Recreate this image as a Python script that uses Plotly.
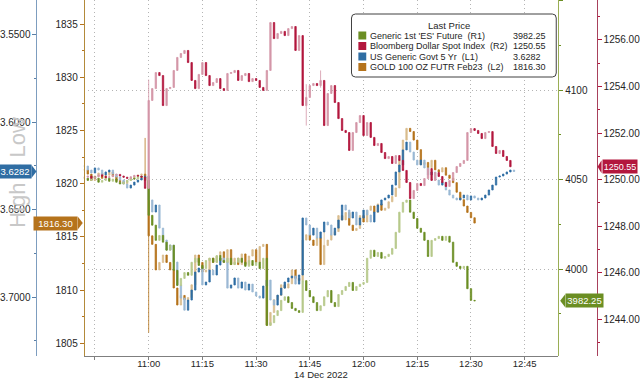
import plotly.graph_objects as go
import pandas as pd

W, H = 640, 379
DAY = "2022-12-14"
START = DAY + " 10:42"

# ---------------- data (1-minute closes) ----------------
# Bloomberg Dollar Spot Index (R2), 10:42 -> 12:41
dxy_close = [
    1250.10, 1250.15, 1250.05, 1250.12, 1250.20, 1250.14, 1250.08, 1250.12, 1250.18,
    1250.22, 1250.15, 1250.10, 1250.05, 1250.12, 1250.18, 1250.15, 1250.10, 1249.62,
    1253.40, 1253.91, 1254.60, 1254.47, 1253.18, 1253.91, 1253.96, 1254.69, 1255.25, 1255.42,
    1255.55, 1255.03, 1254.26, 1253.91, 1254.52, 1255.03, 1254.47, 1254.04, 1254.17, 1254.34,
    1253.91, 1253.83, 1254.56, 1254.60, 1254.69, 1254.26, 1254.47, 1254.56, 1254.21, 1254.34,
    1254.26, 1253.96, 1253.83, 1254.69, 1256.75, 1256.06, 1256.28, 1256.37, 1256.19, 1256.49,
    1256.58, 1255.55, 1256.19, 1253.18, 1253.53, 1254.04, 1254.13, 1254.04, 1254.26, 1252.32,
    1253.70, 1254.04, 1253.31, 1252.62, 1252.11, 1252.02, 1251.25, 1252.02, 1252.45, 1252.75,
    1251.89, 1252.45, 1251.81, 1251.46, 1251.55, 1251.16, 1250.90, 1250.99, 1250.69, 1251.03,
    1250.82, 1250.39, 1249.87, 1249.18, 1249.53, 1249.83, 1249.74, 1250.04, 1250.47, 1249.96,
    1250.30, 1250.13, 1249.87, 1249.70, 1249.96, 1250.30, 1250.56, 1250.69, 1250.82, 1252.02,
    1252.19, 1252.11, 1251.98, 1251.76, 1252.02, 1252.06, 1251.42, 1251.12, 1251.25, 1250.99,
    1250.82, 1250.55,
]
dxy_wicks = {"11:00": (1254.30, 1249.60), "11:44": (1254.10, 1252.32), "11:48": (1254.69, 1253.95)}

# US Generic Govt 5 Yr (L1), 10:42 -> 12:42
ust5_close = [
    3.6251, 3.6274, 3.6291, 3.6262, 3.6274, 3.6302, 3.6285, 3.6274, 3.6297,
    3.6314, 3.6331, 3.6354, 3.6377, 3.6360, 3.6343, 3.6331, 3.6320, 3.6308,
    3.6445, 3.6514, 3.6474, 3.6606, 3.6674, 3.6731, 3.6703, 3.6800, 3.6931, 3.7006,
    3.7075, 3.7017, 3.6960, 3.6857, 3.6834, 3.6931, 3.6914, 3.6846, 3.6874, 3.6817,
    3.6777, 3.6800, 3.6949, 3.6931, 3.6891, 3.6949, 3.6914, 3.6960, 3.6926, 3.6971,
    3.6994, 3.7006, 3.6937, 3.6903, 3.7017, 3.7046, 3.6989, 3.6949, 3.6914, 3.6891,
    3.6880, 3.6926, 3.6874, 3.6548, 3.6588, 3.6646, 3.6606, 3.6663, 3.6628, 3.6571,
    3.6588, 3.6646, 3.6606, 3.6560, 3.6474, 3.6503, 3.6548, 3.6514, 3.6588, 3.6548,
    3.6503, 3.6531, 3.6571, 3.6514, 3.6474, 3.6445, 3.6434, 3.6417, 3.6360, 3.6285,
    3.6245, 3.6159, 3.6114, 3.6171, 3.6217, 3.6245, 3.6217, 3.6262, 3.6302, 3.6285,
    3.6331, 3.6360, 3.6343, 3.6388, 3.6417, 3.6434, 3.6445, 3.6434, 3.6417, 3.6445,
    3.6422, 3.6434, 3.6445, 3.6434, 3.6417, 3.6388, 3.6360, 3.6314, 3.6308, 3.6297,
    3.6285, 3.6274, 3.6282,
]
ust5_wicks = {}

# GOLD 100 OZ FUTR Feb23 (L2), 10:42 -> 12:31
gold_close = [
    1821.3, 1820.9, 1820.3, 1820.7, 1821.0, 1820.5, 1820.8, 1821.1, 1820.7,
    1820.3, 1820.2, 1820.0, 1820.3, 1820.5, 1820.7, 1820.8, 1820.9, 1820.7,
    1815.1, 1814.3, 1811.9, 1812.6, 1813.3, 1812.6, 1811.9, 1810.2, 1808.6, 1809.5,
    1809.1, 1809.3, 1810.5, 1813.3, 1812.6, 1811.7, 1811.9, 1813.0, 1812.6, 1813.2,
    1813.6, 1812.6, 1813.8, 1812.4, 1813.0, 1812.4, 1813.4, 1812.4, 1813.2, 1813.8,
    1812.6, 1814.1, 1814.3, 1806.7, 1807.9, 1809.1, 1809.5, 1810.5, 1810.2, 1810.6,
    1811.9, 1811.1, 1810.9, 1814.7, 1815.2, 1814.7, 1814.2, 1814.9, 1812.4, 1814.2,
    1814.7, 1815.2, 1815.5, 1817.0, 1816.6, 1817.3, 1816.1, 1815.6, 1815.8, 1817.0,
    1816.4, 1817.5, 1817.9, 1817.3, 1818.1, 1817.5, 1817.7, 1818.3, 1818.8, 1819.6,
    1822.2, 1824.1, 1825.2, 1824.9, 1824.1, 1823.2, 1821.8, 1822.0, 1821.5, 1822.2,
    1821.3, 1821.1, 1821.5, 1820.8, 1820.5, 1820.1, 1819.2, 1818.5, 1817.9, 1817.3,
    1816.8, 1816.3,
]
gold_wicks = {"10:59": (1824.3, 1820.5), "11:00": (1820.7, 1806.0), "11:49": (1815.6, 1812.4)}

# Generic 1st 'ES' Future (R1), 10:42 -> 12:31
es_close = [
    4050.75, 4049.5, 4051.75, 4050.75, 4048.5, 4049.5, 4050.75, 4049.0, 4050.25,
    4048.5, 4047.5, 4048.5, 4049.5, 4050.75, 4050.25, 4051.75, 4051.25, 4049.5,
    4030.0, 4024.5, 4016.0, 4018.75, 4015.0, 4010.5, 4013.25, 3999.25, 3990.75, 3994.75,
    3998.0, 3996.5, 4003.75, 4006.0, 4002.0, 4000.25, 4004.75, 4006.0, 4003.75, 4007.5,
    4004.75, 4003.75, 4006.0, 4002.5, 4003.75, 4006.0, 4003.75, 4001.5, 4004.75, 4002.0,
    4003.75, 4000.25, 4006.0, 3968.5, 3970.0, 3974.0, 3976.75, 3982.5, 3984.5, 3981.25,
    3978.0, 3976.75, 3975.75, 3993.5, 3988.0, 3984.5, 3981.25, 3976.75, 3979.5, 3984.5,
    3988.0, 3981.25, 3979.0, 3985.75, 3988.0, 3990.25, 3992.5, 3988.0, 3990.25, 3991.5,
    3992.5, 4006.0, 4010.5, 4007.0, 4009.25, 4006.0, 4007.0, 4008.25, 4011.5, 4020.5,
    4031.75, 4037.25, 4038.5, 4031.75, 4028.25, 4022.75, 4020.5, 4016.0, 4007.0, 4016.0,
    4017.0, 4018.25, 4016.0, 4018.25, 4015.0, 4003.75, 4001.5, 4000.25, 4001.5, 3989.0,
    3982.5, 3982.25,
]
es_wicks = {}

x_tick_times = ["10:45", "11:00", "11:15", "11:30", "11:45", "12:00", "12:15", "12:30", "12:45"]
x_tick_labels = ["", "11:00", "11:15", "11:30", "11:45", "12:00", "12:15", "12:30", "12:45"]
date_label = "14 Dec 2022"

legend_names = ["Generic 1st 'ES' Future\u00a0\u00a0(R1)", "Bloomberg Dollar Spot Index\u00a0\u00a0(R2)",
                "US Generic Govt 5 Yr\u00a0\u00a0(L1)", "GOLD 100 OZ FUTR Feb23\u00a0\u00a0(L2)"]
legend_values = ["3982.25", "1250.55", "3.6282", "1816.30"]
last_values = {"es": 3982.25, "dxy": 1250.55, "ust5": 3.6282, "gold": 1816.30}

# ---------------- styling ----------------
GREEN_D, GREEN_L = "#6b8e23", "#b7c98c"
RED_D, RED_L = "#b3173d", "#d497a8"
BLUE_D, BLUE_L = "#2f6da3", "#9bb9d4"
GOLD_D, GOLD_L = "#b5731c", "#d9bd8e"
GRID = "#b4b4b4"

X0, X1 = 81 / W, 563 / W
XB = 33 / W          # blue axis position
XR = 602 / W         # red axis position
YD0 = 1 - 356 / H    # bottom of plot domain


def px(x):
    return x / W


def py(y):
    return 1 - y / H


def ohlc(closes, wicks):
    times = pd.date_range(START, periods=len(closes), freq="min")
    opens = [closes[0]] + closes[:-1]
    highs = [max(o, c) for o, c in zip(opens, closes)]
    lows = [min(o, c) for o, c in zip(opens, closes)]
    for i, t in enumerate(times):
        k = t.strftime("%H:%M")
        if k in wicks:
            highs[i] = max(highs[i], wicks[k][0])
            lows[i] = min(lows[i], wicks[k][1])
    return [t.strftime("%Y-%m-%d %H:%M") for t in times], opens, highs, lows, closes


fig = go.Figure()


def add_candles(closes, wicks, yaxis, dark, light):
    t, o, h, l, c = ohlc(closes, wicks)
    fig.add_trace(go.Candlestick(
        x=t, open=o, high=h, low=l, close=c, xaxis="x", yaxis=yaxis,
        increasing=dict(line=dict(color=light, width=0.8), fillcolor=light),
        decreasing=dict(line=dict(color=dark, width=0.8), fillcolor=dark),
        whiskerwidth=0, showlegend=False, hoverinfo="skip"))


add_candles(ust5_close, ust5_wicks, "y2", BLUE_D, BLUE_L)
add_candles(gold_close, gold_wicks, "y", GOLD_D, GOLD_L)
add_candles(es_close, es_wicks, "y3", GREEN_D, GREEN_L)
add_candles(dxy_close, dxy_wicks, "y4", RED_D, RED_L)

tickfont = dict(family="Liberation Sans", size=10, color="#262626")
xtickfont = dict(family="Liberation Sans", size=9.5, color="#262626")

fig.update_layout(
    width=W, height=H, margin=dict(l=0, r=0, t=0, b=0),
    paper_bgcolor="white", plot_bgcolor="white", showlegend=False,
    font=dict(family="Liberation Sans", size=10, color="#262626"),
    boxgap=0.45,
    xaxis=dict(
        domain=[X0, X1], anchor="y", type="date",
        range=[DAY + " 10:41:52", DAY + " 12:54:21"],
        tickmode="array", tickvals=[DAY + " " + t for t in x_tick_times], ticktext=x_tick_labels,
        showgrid=True, gridcolor=GRID, griddash="1px,3px", gridwidth=1,
        showline=True, linecolor="#7f7f7f", linewidth=1,
        ticks="outside", ticklen=3, tickcolor="#7f7f7f", ticklabelstandoff=-4,
        tickfont=xtickfont, rangeslider=dict(visible=False), zeroline=False,
    ),
    yaxis=dict(
        domain=[YD0, 1], anchor="free", position=X0, side="left",
        range=[1803.81, 1837.26], tick0=1805, dtick=5,
        showgrid=False, zeroline=False, showline=True, linecolor="#b38a3a", linewidth=1,
        ticks="outside", ticklen=4, tickcolor=GOLD_D, tickfont=tickfont,
        minor=dict(dtick=2.5, ticks="outside", ticklen=2, tickcolor=GOLD_D, showgrid=False),
    ),
    yaxis2=dict(
        overlaying="y", anchor="free", position=XB, side="left",
        range=[3.7337, 3.5302], tick0=3.55, dtick=0.05, tickformat=".4f",
        showgrid=False, zeroline=False, showline=True, linecolor="#7d9dbf", linewidth=1,
        ticks="outside", ticklen=4, tickcolor="#5a7fa6", tickfont=tickfont,
        minor=dict(dtick=0.025, ticks="outside", ticklen=2, tickcolor="#5a7fa6", showgrid=False),
    ),
    yaxis3=dict(
        overlaying="y", anchor="free", position=X1, side="right",
        range=[3951.4, 4150.28], tick0=4000, dtick=50,
        showgrid=True, gridcolor=GRID, griddash="1px,3px", gridwidth=1,
        zeroline=False, showline=True, linecolor="#9aae55", linewidth=1,
        ticks="outside", ticklen=4, tickcolor=GREEN_D, tickfont=tickfont,
        minor=dict(dtick=25, ticks="outside", ticklen=2, tickcolor=GREEN_D, showgrid=False),
    ),
    yaxis4=dict(
        overlaying="y", anchor="free", position=XR, side="right",
        range=[1242.41, 1257.72], tick0=1244, dtick=2, tickformat=".2f",
        showgrid=False, zeroline=False, showline=True, linecolor="#a8415c", linewidth=1,
        ticks="outside", ticklen=4, tickcolor=RED_D, tickfont=tickfont,
        minor=dict(dtick=1, ticks="outside", ticklen=2, tickcolor=RED_D, showgrid=False),
    ),
)

shapes = []
annotations = []

# watermark text
annotations.append(dict(xref="paper", yref="paper", x=px(14), y=py(172), xanchor="center", yanchor="middle",
                        text="High = Low", textangle=-90, showarrow=False,
                        font=dict(family="Liberation Sans", size=22, color="#c8c8c8")))
# date label
annotations.append(dict(xref="paper", yref="paper", x=px(322), y=py(374.5), xanchor="center", yanchor="middle",
                        text=date_label, showarrow=False, font=xtickfont))


# last value tags
def tag(tip_px, yref, value, text, color, width, pointing, size=9.5, arrow=5):
    if pointing == "right":
        path = f"M-{arrow},-6.5 L0,0 L-{arrow},6.5 Z"
        ax, xanch = tip_px - arrow, "right"
    else:
        path = f"M{arrow},-6.5 L0,0 L{arrow},6.5 Z"
        ax, xanch = tip_px + arrow, "left"
    shapes.append(dict(type="path", xref="paper", yref=yref, xsizemode="pixel", ysizemode="pixel",
                       xanchor=px(tip_px), yanchor=value, path=path,
                       fillcolor=color, line=dict(width=0), layer="above"))
    annotations.append(dict(xref="paper", yref=yref, x=px(ax), y=value, xanchor=xanch, yanchor="middle",
                            text=text, showarrow=False, bgcolor=color, borderpad=1, width=width,
                            height=11, align="center",
                            font=dict(family="Liberation Sans", size=size, color="white")))


tag(33, "y2", last_values["ust5"], "3.6282", BLUE_D, 30, "right")
tag(80, "y", last_values["gold"], "1816.30", GOLD_D, 41, "right")
tag(603, "y4", last_values["dxy"], "1250.55", RED_D, 32, "left", size=9, arrow=4)
tag(565, "y3", last_values["es"], "3982.25", GREEN_D, 35, "left")

# legend box (rounded)
bx0, bx1, by0, by1, r = 353, 561, 14, 77, 4
path = (f"M{px(bx0 + r)},{py(by0)} L{px(bx1 - r)},{py(by0)} Q{px(bx1)},{py(by0)} {px(bx1)},{py(by0 + r)} "
        f"L{px(bx1)},{py(by1 - r)} Q{px(bx1)},{py(by1)} {px(bx1 - r)},{py(by1)} "
        f"L{px(bx0 + r)},{py(by1)} Q{px(bx0)},{py(by1)} {px(bx0)},{py(by1 - r)} "
        f"L{px(bx0)},{py(by0 + r)} Q{px(bx0)},{py(by0)} {px(bx0 + r)},{py(by0)} Z")
shapes.append(dict(type="path", xref="paper", yref="paper", path=path, fillcolor="white",
                   line=dict(color="#404040", width=1), layer="above"))
legfont = dict(family="Liberation Sans", size=9, color="#262626")
annotations.append(dict(xref="paper", yref="paper", x=px(452), y=py(25), xanchor="center", yanchor="middle",
                        text="Last Price", showarrow=False,
                        font=dict(family="Liberation Sans", size=9.5, color="#262626")))
row_y = [35.5, 46, 56.5, 67]
row_colors = [GREEN_D, RED_D, BLUE_D, GOLD_D]
for yy, name, val, col in zip(row_y, legend_names, legend_values, row_colors):
    shapes.append(dict(type="rect", xref="paper", yref="paper", x0=px(360), x1=px(368),
                       y0=py(yy + 4), y1=py(yy - 4), fillcolor=col, line=dict(width=0), layer="above"))
    annotations.append(dict(xref="paper", yref="paper", x=px(370), y=py(yy), xanchor="left", yanchor="middle",
                            text=name, showarrow=False, font=legfont))
    annotations.append(dict(xref="paper", yref="paper", x=px(515), y=py(yy), xanchor="left", yanchor="middle",
                            text=val, showarrow=False, font=legfont))

fig.update_layout(shapes=shapes, annotations=annotations)
fig.write_html("out.html")
